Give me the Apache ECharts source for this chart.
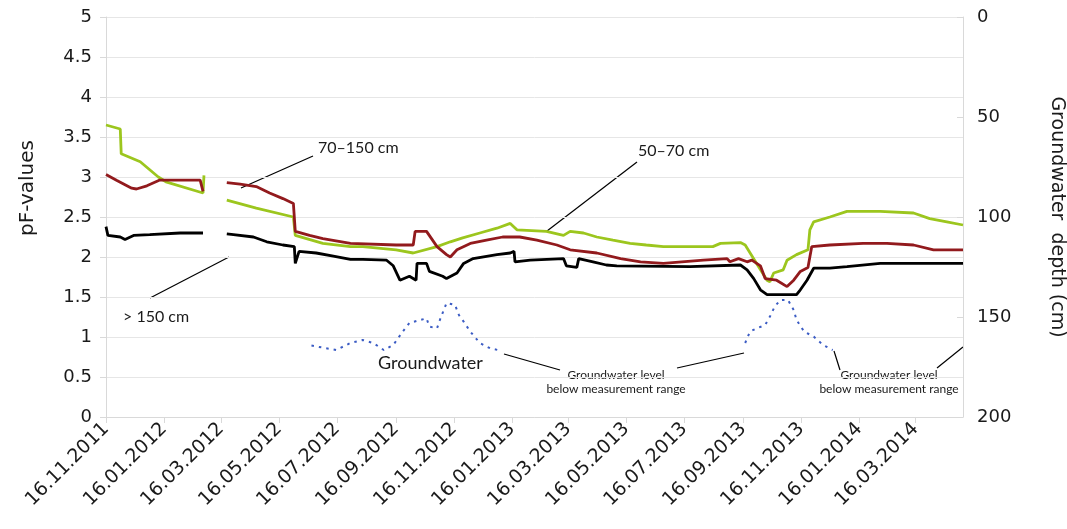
<!DOCTYPE html>
<html><head><meta charset="utf-8">
<script src="https://cdn.jsdelivr.net/npm/echarts@6/dist/echarts.min.js"></script>
<style>html,body{margin:0;padding:0;background:#fff}#c{width:1067px;height:529px}</style>
</head><body><div id="c"></div>
<script>
// ---- axis ticks ----
const tickDates = ['2011-11-16','2012-01-16','2012-03-16','2012-05-16','2012-07-16','2012-09-16','2012-11-16',
  '2013-01-16','2013-03-16','2013-05-16','2013-07-16','2013-09-16','2013-11-16','2014-01-16','2014-03-16'];
const tickLabels = ['16.11.2011','16.01.2012','16.03.2012','16.05.2012','16.07.2012','16.09.2012','16.11.2012',
  '16.01.2013','16.03.2013','16.05.2013','16.07.2013','16.09.2013','16.11.2013','16.01.2014','16.03.2014'];
const xStart = '2011-11-16', xEnd = '2014-05-05';
const pfTicks = [0,0.5,1,1.5,2,2.5,3,3.5,4,4.5,5];
const depthTicks = [0,50,100,150,200];

// ---- series: pF at 50–70 cm (green) ----
const pf50_70 = [
 ['2011-11-16',3.65],['2011-12-01',3.60],['2011-12-02',3.29],['2011-12-22',3.19],['2012-01-10',3.00],
 ['2012-01-18',2.94],['2012-02-26',2.80],['2012-02-27',3.02],['2012-03-10','-'],
 ['2012-03-22',2.71],['2012-04-22',2.61],['2012-05-31',2.50],['2012-06-02',2.27],['2012-07-01',2.17],
 ['2012-07-30',2.13],['2012-08-12',2.13],['2012-09-16',2.09],['2012-10-04',2.05],['2012-10-29',2.13],
 ['2012-11-12',2.19],['2012-11-25',2.24],['2012-12-13',2.30],['2012-12-31',2.36],['2013-01-14',2.42],
 ['2013-01-21',2.34],['2013-02-21',2.32],['2013-03-11',2.27],['2013-03-18',2.32],['2013-04-01',2.30],
 ['2013-04-15',2.25],['2013-05-02',2.21],['2013-05-20',2.17],['2013-06-06',2.15],['2013-06-24',2.13],
 ['2013-08-15',2.13],['2013-08-23',2.17],['2013-09-13',2.18],['2013-09-18',2.15],['2013-09-30',1.92],
 ['2013-10-11',1.71],['2013-10-14',1.69],['2013-10-18',1.80],['2013-10-28',1.84],['2013-11-01',1.96],
 ['2013-11-11',2.03],['2013-11-23',2.09],['2013-11-25',2.34],['2013-11-29',2.44],['2013-12-16',2.50],
 ['2014-01-03',2.57],['2014-02-07',2.57],['2014-03-14',2.55],['2014-03-31',2.48],['2014-04-18',2.44],
 ['2014-05-05',2.40]
];
// ---- series: pF at 70–150 cm (dark red) ----
const pf70_150 = [
 ['2011-11-16',3.03],['2011-11-27',2.96],['2011-12-13',2.86],['2011-12-18',2.85],['2011-12-29',2.89],
 ['2012-01-11',2.96],['2012-02-23',2.96],['2012-02-26',2.82],['2012-03-10','-'],
 ['2012-03-22',2.93],['2012-04-05',2.91],['2012-04-22',2.88],['2012-05-06',2.80],['2012-05-20',2.73],
 ['2012-05-31',2.67],['2012-06-02',2.32],['2012-06-17',2.27],['2012-07-01',2.23],['2012-07-30',2.17],
 ['2012-09-16',2.15],['2012-10-04',2.15],['2012-10-06',2.32],['2012-10-18',2.32],['2012-10-29',2.13],
 ['2012-11-08',2.03],['2012-11-12',2.00],['2012-11-19',2.09],['2012-12-03',2.17],['2012-12-20',2.21],
 ['2013-01-06',2.25],['2013-01-24',2.25],['2013-02-11',2.21],['2013-03-04',2.15],['2013-03-18',2.09],
 ['2013-04-15',2.05],['2013-05-10',1.98],['2013-05-31',1.94],['2013-06-24',1.92],['2013-08-05',1.96],
 ['2013-08-30',1.98],['2013-09-02',1.94],['2013-09-11',1.98],['2013-09-20',1.94],['2013-09-25',1.96],
 ['2013-10-04',1.89],['2013-10-09',1.73],['2013-10-21',1.71],['2013-11-01',1.63],['2013-11-08',1.71],
 ['2013-11-15',1.82],['2013-11-23',1.87],['2013-11-27',2.13],['2013-12-16',2.15],['2014-01-20',2.17],
 ['2014-02-14',2.17],['2014-03-14',2.15],['2014-04-04',2.09],['2014-05-05',2.09]
];
// ---- series: pF at > 150 cm (black) ----
const pfBelow150 = [
 ['2011-11-16',2.38],['2011-11-18',2.27],['2011-12-01',2.25],['2011-12-06',2.22],['2011-12-15',2.27],
 ['2012-01-01',2.28],['2012-02-02',2.30],['2012-02-26',2.30],['2012-03-10','-'],
 ['2012-03-22',2.29],['2012-03-29',2.28],['2012-04-19',2.25],['2012-05-03',2.19],['2012-05-20',2.15],
 ['2012-06-01',2.13],['2012-06-02',1.92],['2012-06-06',2.07],['2012-06-24',2.05],['2012-07-12',2.01],
 ['2012-07-30',1.97],['2012-08-12',1.97],['2012-09-06',1.96],['2012-09-13',1.89],['2012-09-20',1.71],
 ['2012-09-30',1.76],['2012-10-07',1.71],['2012-10-08',1.92],['2012-10-18',1.92],['2012-10-21',1.82],
 ['2012-11-04',1.76],['2012-11-08',1.73],['2012-11-19',1.80],['2012-11-26',1.92],['2012-12-06',1.98],
 ['2012-12-31',2.03],['2013-01-14',2.05],['2013-01-18',2.07],['2013-01-19',1.94],['2013-02-04',1.96],
 ['2013-03-11',1.98],['2013-03-14',1.89],['2013-03-25',1.87],['2013-03-27',1.98],['2013-04-11',1.94],
 ['2013-04-25',1.90],['2013-05-06',1.89],['2013-07-22',1.88],['2013-09-13',1.90],['2013-09-20',1.84],
 ['2013-09-27',1.73],['2013-10-04',1.59],['2013-10-11',1.53],['2013-11-11',1.53],['2013-11-15',1.59],
 ['2013-11-22',1.71],['2013-11-29',1.86],['2013-12-16',1.86],['2014-01-03',1.88],['2014-02-07',1.92],
 ['2014-05-05',1.92]
];
// ---- series: groundwater depth in cm (blue dotted, right axis) ----
const groundwaterDepth = [
 ['2012-06-19',164.3],['2012-07-15',166.5],['2012-07-30',163],['2012-08-12',161.5],['2012-08-23',163],
 ['2012-09-03',166.5],['2012-09-13',164],['2012-09-23',157.3],['2012-09-30',153],['2012-10-11',151.5],
 ['2012-10-18',150.7],['2012-10-21',154.8],['2012-10-29',155.7],['2012-11-01',151.5],['2012-11-08',143],
 ['2012-11-17',144],['2012-11-21',149],['2012-11-26',152.3],['2012-12-03',157.3],['2012-12-13',163],
 ['2012-12-24',165.7],['2013-01-01',166.5],['2013-05-01','-'],
 ['2013-09-18',163],['2013-09-23',157.3],['2013-09-30',155.7],['2013-10-09',154],['2013-10-14',149.8],
 ['2013-10-19',144.8],['2013-10-25',141.5],['2013-11-02',141.5],['2013-11-08',146.5],['2013-11-11',151.5],
 ['2013-11-19',157.3],['2013-11-29',159.8],['2013-12-09',164],['2013-12-19',166.5]
];

function ts(s){const p=s.split('-').map(Number);return Date.UTC(p[0],p[1]-1,p[2]);}
function prep(arr){return arr.map(d=>[ts(d[0]), d[1]]);}
const tickTs = tickDates.map(ts);

const AX = '#d9d9d9', TXT = '#1a1a1a';
const chart = echarts.init(document.getElementById('c'), null, {renderer:'canvas'});
const annFont = 'Lato, "Open Sans", sans-serif';
chart.setOption({
  animation:false,
  backgroundColor:'#fff',
  grid:{left:106,right:104,top:17,bottom:112,containLabel:false,outerBoundsMode:'none'},
  xAxis:{
    type:'value', min:ts(xStart), max:ts(xEnd),
    axisLine:{show:true,onZero:false,lineStyle:{color:AX}},
    axisTick:{show:true,length:6,lineStyle:{color:AX},customValues:tickTs},
    splitLine:{show:false},
    axisLabel:{customValues:tickTs,rotate:45,margin:9,color:TXT,fontFamily:'DejaVu Sans',fontSize:19,
      hideOverlap:false,
      formatter:function(v){const i=tickTs.indexOf(v);return i>=0?tickLabels[i]:'';}}
  },
  yAxis:[{
    type:'value',min:pfTicks[0],max:pfTicks[pfTicks.length-1],interval:0.5,
    axisLine:{show:true,lineStyle:{color:AX}},
    axisTick:{show:true,length:6,lineStyle:{color:AX}},
    splitLine:{show:true,lineStyle:{color:'#e6e6e6',width:1}},
    axisLabel:{color:TXT,fontFamily:'DejaVu Sans',fontSize:18,margin:14}
  },{
    type:'value',min:depthTicks[0],max:depthTicks[depthTicks.length-1],interval:50,inverse:true,position:'right',
    name:'Groundwater  depth (cm)',nameLocation:'middle',nameGap:84,nameRotate:-90,
    nameTextStyle:{color:TXT,fontFamily:'DejaVu Sans',fontSize:19},
    axisLine:{show:true,lineStyle:{color:AX}},
    axisTick:{show:true,inside:true,length:6,lineStyle:{color:AX}},
    splitLine:{show:false},
    axisLabel:{color:TXT,fontFamily:'DejaVu Sans',fontSize:18,margin:14}
  }],
  series:[
    {name:'50–70 cm',type:'line',data:prep(pf50_70),symbol:'none',connectNulls:false,
     lineStyle:{color:'#9cc61e',width:2.8},itemStyle:{color:'#9cc61e'}},
    {name:'70–150 cm',type:'line',data:prep(pf70_150),symbol:'none',connectNulls:false,
     lineStyle:{color:'#921a1d',width:2.8},itemStyle:{color:'#921a1d'}},
    {name:'> 150 cm',type:'line',data:prep(pfBelow150),symbol:'none',connectNulls:false,
     lineStyle:{color:'#000',width:2.8},itemStyle:{color:'#000'}},
    {name:'Groundwater',type:'line',yAxisIndex:1,data:prep(groundwaterDepth),symbol:'none',connectNulls:false,
     lineStyle:{color:'#3b5cc4',width:2,type:[2.5,5]},itemStyle:{color:'#3b5cc4'}}
  ],
  graphic:[
    {type:'text',x:28,y:188,rotation:Math.PI/2,style:{text:'pF-values',fill:TXT,font:'20px "DejaVu Sans"',align:'center',verticalAlign:'middle'}},
    {type:'line',shape:{x1:241,y1:188,x2:313,y2:156},style:{stroke:'#000',lineWidth:1.2}},
    {type:'line',shape:{x1:547,y1:231,x2:637,y2:162},style:{stroke:'#000',lineWidth:1.2}},
    {type:'line',shape:{x1:150,y1:298,x2:229,y2:257},style:{stroke:'#000',lineWidth:1.2}},
    {type:'line',shape:{x1:504,y1:354,x2:560,y2:370},style:{stroke:'#000',lineWidth:1.2}},
    {type:'line',shape:{x1:677,y1:368,x2:744,y2:353},style:{stroke:'#000',lineWidth:1.2}},
    {type:'line',shape:{x1:834,y1:351,x2:840,y2:370},style:{stroke:'#000',lineWidth:1.2}},
    {type:'line',shape:{x1:937,y1:368,x2:963,y2:347},style:{stroke:'#000',lineWidth:1.2}},
    {type:'text',x:318,y:148,style:{text:'70–150 cm',fill:TXT,font:'16px '+annFont,align:'left',verticalAlign:'middle'}},
    {type:'text',x:638,y:151,style:{text:'50–70 cm',fill:TXT,font:'16px '+annFont,align:'left',verticalAlign:'middle'}},
    {type:'text',x:123,y:317,style:{text:'> 150 cm',fill:TXT,font:'16px '+annFont,align:'left',verticalAlign:'middle'}},
    {type:'text',x:378,y:363,style:{text:'Groundwater',fill:TXT,font:'18px '+annFont,align:'left',verticalAlign:'middle'}},
    {type:'text',x:616,y:382,style:{text:'Groundwater level\nbelow measurement range',fill:TXT,font:'12px '+annFont,lineHeight:14,align:'center',verticalAlign:'middle'}},
    {type:'text',x:889,y:382,style:{text:'Groundwater level\nbelow measurement range',fill:TXT,font:'12px '+annFont,lineHeight:14,align:'center',verticalAlign:'middle'}}
  ]
});
</script></body></html>
